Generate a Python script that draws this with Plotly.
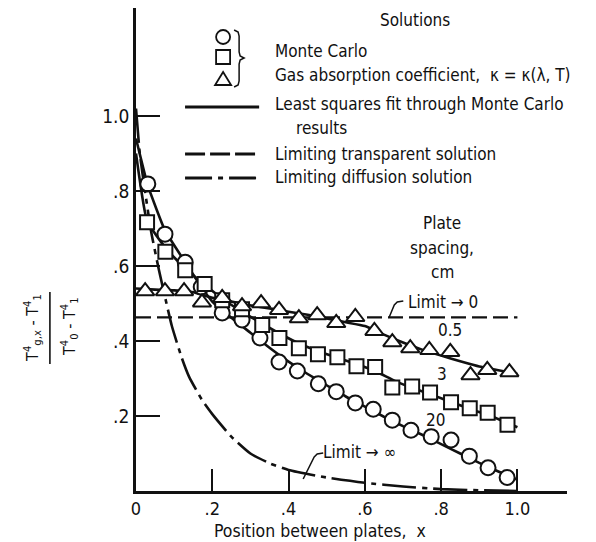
import plotly.graph_objects as go

# ---------------- data ----------------
# Monte Carlo results, plate spacing 20 cm (circles)
circ_x = [0.031, 0.076, 0.129, 0.171, 0.226, 0.278, 0.325, 0.375, 0.423, 0.478,
          0.525, 0.575, 0.622, 0.672, 0.721, 0.774, 0.826, 0.874, 0.923, 0.973]
circ_y = [0.819, 0.685, 0.610, 0.544, 0.475, 0.456, 0.408, 0.344, 0.320, 0.286,
          0.265, 0.235, 0.218, 0.189, 0.162, 0.145, 0.136, 0.093, 0.062, 0.036]
# plate spacing 3 cm (squares)
sq_x = [0.029, 0.077, 0.129, 0.180, 0.226, 0.278, 0.331, 0.376, 0.427, 0.477,
        0.528, 0.578, 0.627, 0.672, 0.724, 0.771, 0.826, 0.875, 0.922, 0.974]
sq_y = [0.717, 0.638, 0.589, 0.552, 0.509, 0.485, 0.443, 0.408, 0.381, 0.365,
        0.357, 0.333, 0.331, 0.276, 0.279, 0.263, 0.237, 0.221, 0.209, 0.177]
# plate spacing 0.5 cm (triangles)
tri_x = [0.024, 0.076, 0.126, 0.173, 0.226, 0.278, 0.328, 0.375, 0.427, 0.475,
         0.525, 0.575, 0.625, 0.672, 0.719, 0.769, 0.824, 0.877, 0.921, 0.979]
tri_y = [0.533, 0.533, 0.533, 0.503, 0.515, 0.493, 0.501, 0.483, 0.461, 0.469,
         0.448, 0.464, 0.427, 0.397, 0.381, 0.376, 0.371, 0.309, 0.323, 0.317]

# least squares fits
fit20_x = [0.0, 0.031, 0.076, 0.129, 0.171, 0.2, 0.25, 0.3, 0.35, 0.4, 0.45, 0.5,
           0.55, 0.6, 0.65, 0.7, 0.75, 0.8, 0.85, 0.9, 0.95, 1.0]
fit20_y = [0.94, 0.815, 0.695, 0.610, 0.545, 0.505, 0.462, 0.422, 0.382, 0.345, 0.312, 0.282,
           0.252, 0.225, 0.198, 0.173, 0.150, 0.125, 0.100, 0.075, 0.052, 0.030]
fit3_x = [0.0, 0.029, 0.08, 0.13, 0.18, 0.23, 0.28, 0.33, 0.38, 0.43, 0.48, 0.53,
          0.58, 0.63, 0.68, 0.73, 0.78, 0.83, 0.88, 0.93, 1.0]
fit3_y = [0.90, 0.72, 0.645, 0.592, 0.550, 0.510, 0.477, 0.447, 0.418, 0.392, 0.372, 0.355,
          0.338, 0.318, 0.293, 0.273, 0.255, 0.236, 0.217, 0.200, 0.170]
fit05_x = [0.0, 0.05, 0.1, 0.15, 0.2, 0.25, 0.3, 0.35, 0.4, 0.45, 0.5, 0.55,
           0.6, 0.65, 0.7, 0.75, 0.8, 0.85, 0.9, 0.95, 1.0]
fit05_y = [0.540, 0.537, 0.535, 0.530, 0.515, 0.505, 0.495, 0.487, 0.478, 0.470, 0.460, 0.450,
           0.440, 0.417, 0.396, 0.377, 0.361, 0.346, 0.332, 0.322, 0.312]

# limiting solutions
transp_x = [0.0, 1.0]
transp_y = [0.463, 0.463]
diff_x = [0.0, 0.01, 0.025, 0.04, 0.06, 0.08, 0.094, 0.12, 0.139, 0.173, 0.2, 0.25,
          0.3, 0.35, 0.4, 0.5, 0.6, 0.7, 0.8, 0.9, 1.0]
diff_y = [1.02, 0.90, 0.79, 0.69, 0.59, 0.50, 0.44, 0.355, 0.305, 0.243, 0.205, 0.145,
          0.100, 0.074, 0.056, 0.036, 0.022, 0.012, 0.005, 0.002, 0.0]

x_tickvals = [0, 0.2, 0.4, 0.6, 0.8, 1.0]
x_ticktext = ["0", ".2", ".4", ".6", ".8", "1.0"]
y_tickvals = [0.2, 0.4, 0.6, 0.8, 1.0]
y_ticktext = [".2", ".4", ".6", ".8", "1.0"]

# ---------------- layout helpers ----------------
OX, OY = 6, 8              # page offset of the plot div
W, H = 596 - OX, 542 - OY
X0, Y0 = 134 - OX, 491 - OY  # pixel of data origin inside figure
PXU, PYU = 381.0, 375.0    # pixels per data unit
T = 0
B = H - Y0
L = X0
XMAX = 1.13
R = W - (X0 + XMAX * PXU)
YMAX = (Y0 - T) / PYU
FONT = "Liberation Sans Narrow, DejaVu Sans Condensed, Arial Narrow, sans-serif"
BLACK = "#111111"
FS = 17


def px(x):
    return (x - OX - L) / (W - L - R)


def py(y):
    return (H - B - (y - OY)) / (H - T - B)


fig = go.Figure()

line_w = 2.6
for fx, fy in [(fit20_x, fit20_y), (fit3_x, fit3_y), (fit05_x, fit05_y)]:
    fig.add_trace(go.Scatter(x=fx, y=fy, mode="lines",
                             line=dict(color=BLACK, width=line_w, shape="spline", smoothing=0.4),
                             showlegend=False, hoverinfo="skip"))
fig.add_trace(go.Scatter(x=transp_x, y=transp_y, mode="lines",
                         line=dict(color=BLACK, width=2.4, dash="15px,6px"),
                         showlegend=False, hoverinfo="skip"))
fig.add_trace(go.Scatter(x=diff_x, y=diff_y, mode="lines",
                         line=dict(color=BLACK, width=2.6, dash="34px,6px,5px,6px",
                                   shape="spline", smoothing=0.5),
                         showlegend=False, hoverinfo="skip"))

mk = dict(color="white", size=15, line=dict(color=BLACK, width=2))
fig.add_trace(go.Scatter(x=circ_x, y=circ_y, mode="markers",
                         marker=dict(symbol="circle", **mk), showlegend=False))
fig.add_trace(go.Scatter(x=sq_x, y=sq_y, mode="markers",
                         marker=dict(symbol="square", color="white", size=14,
                                     line=dict(color=BLACK, width=2)),
                         showlegend=False))
fig.add_trace(go.Scatter(x=tri_x, y=tri_y, mode="markers",
                         marker=dict(symbol="triangle-up", color="white", size=16,
                                     line=dict(color=BLACK, width=2)),
                         showlegend=False))

ann = []


def text(s, x, y, size=FS, xanchor="center", yanchor="middle", angle=0):
    ann.append(dict(text=s, x=px(x), y=py(y), xref="paper", yref="paper",
                    showarrow=False, xanchor=xanchor, yanchor=yanchor, textangle=angle,
                    font=dict(family=FONT, size=size, color=BLACK)))


# legend texts
text("Solutions", 413, 20)
text("Monte Carlo", 271, 51, xanchor="left")
text("Gas absorption coefficient,  \u03ba = \u03ba(\u03bb, T)", 271, 75, xanchor="left")
text("Least squares fit through Monte Carlo", 271, 104, xanchor="left")
text("results", 292, 128, xanchor="left")
text("Limiting transparent solution", 271, 154, xanchor="left")
text("Limiting diffusion solution", 271, 177, xanchor="left")

# curve labels
text("Plate", 440, 223)
text("spacing,", 440, 248)
text("cm", 440, 272)
text("Limit \u2192 0", 404, 302, xanchor="left")
text("0.5", 448, 330)
text("3", 440, 374)
text("20", 433, 420)
text("Limit \u2192 \u221e", 319, 452, xanchor="left")

# axis title
text("Position between plates,  x", 318, 531, 17.5)
# y title (rotated fraction)
text("T<sup>4</sup><sub>g,x</sub> - T<sup>4</sup><sub>1</sub>", 30, 328, 16, angle=-90)
text("T<sup>4</sup><sub>0</sub> - T<sup>4</sup><sub>1</sub>", 67, 326, 16, angle=-90)

shapes = []


def pline(x0, y0, x1, y1, w=2.6, dash="solid"):
    shapes.append(dict(type="line", xref="paper", yref="paper",
                       x0=px(x0), y0=py(y0), x1=px(x1), y1=py(y1),
                       line=dict(color=BLACK, width=w, dash=dash)))


def ppath(pts, w=1.6):
    d = "M " + " L ".join(f"{px(a):.5f},{py(b):.5f}" for a, b in pts)
    shapes.append(dict(type="path", xref="paper", yref="paper", path=d,
                       line=dict(color=BLACK, width=w)))


# fraction bar
pline(48, 292, 48, 364, w=1.6)

# legend line samples
pline(183, 107, 257, 107, w=2.8)
pline(183, 154, 257, 154, w=2.8, dash="20px,5px")
pline(183, 178, 257, 178, w=2.8, dash="27px,6px,5px,6px")

# legend symbols
r = 7
shapes.append(dict(type="circle", xref="paper", yref="paper",
                   x0=px(221 - r), x1=px(221 + r), y0=py(37 - r), y1=py(37 + r),
                   line=dict(color=BLACK, width=1.8)))
shapes.append(dict(type="rect", xref="paper", yref="paper",
                   x0=px(221 - r), x1=px(221 + r), y0=py(57 - r), y1=py(57 + r),
                   line=dict(color=BLACK, width=1.8)))
shapes.append(dict(type="path", xref="paper", yref="paper",
                   path=f"M {px(213):.5f},{py(85):.5f} L {px(229):.5f},{py(85):.5f} L {px(221):.5f},{py(72):.5f} Z",
                   line=dict(color=BLACK, width=1.8)))
# bracket
ppath([(232, 30), (236, 32), (237, 36), (237, 52), (238, 56), (242, 58),
       (238, 60), (237, 64), (237, 81), (236, 85), (232, 87)], w=1.5)

# leaders
ppath([(387, 317), (392, 305), (395, 302), (401, 301)], w=1.5)
ppath([(301, 479), (312, 457), (315, 454), (321, 453)], w=1.5)

fig.update_layout(
    width=W, height=H,
    margin=dict(l=L, r=R, t=T, b=B, pad=0),
    paper_bgcolor="white", plot_bgcolor="white",
    showlegend=False,
    annotations=ann, shapes=shapes,
    font=dict(family=FONT, color=BLACK),
    xaxis=dict(range=[0, XMAX], showgrid=False, zeroline=False,
               showline=True, linecolor=BLACK, linewidth=2.6,
               ticks="inside", ticklen=22, tickwidth=1.6, tickcolor=BLACK,
               tickvals=x_tickvals, ticktext=x_ticktext,
               tickfont=dict(family=FONT, size=18, color=BLACK)),
    yaxis=dict(range=[0, YMAX], showgrid=False, zeroline=False,
               showline=True, linecolor=BLACK, linewidth=2.6,
               ticks="inside", ticklen=24, tickwidth=1.6, tickcolor=BLACK,
               tickvals=y_tickvals, ticktext=y_ticktext,
               tickfont=dict(family=FONT, size=19, color=BLACK)),
)

fig.write_html("out.html")
